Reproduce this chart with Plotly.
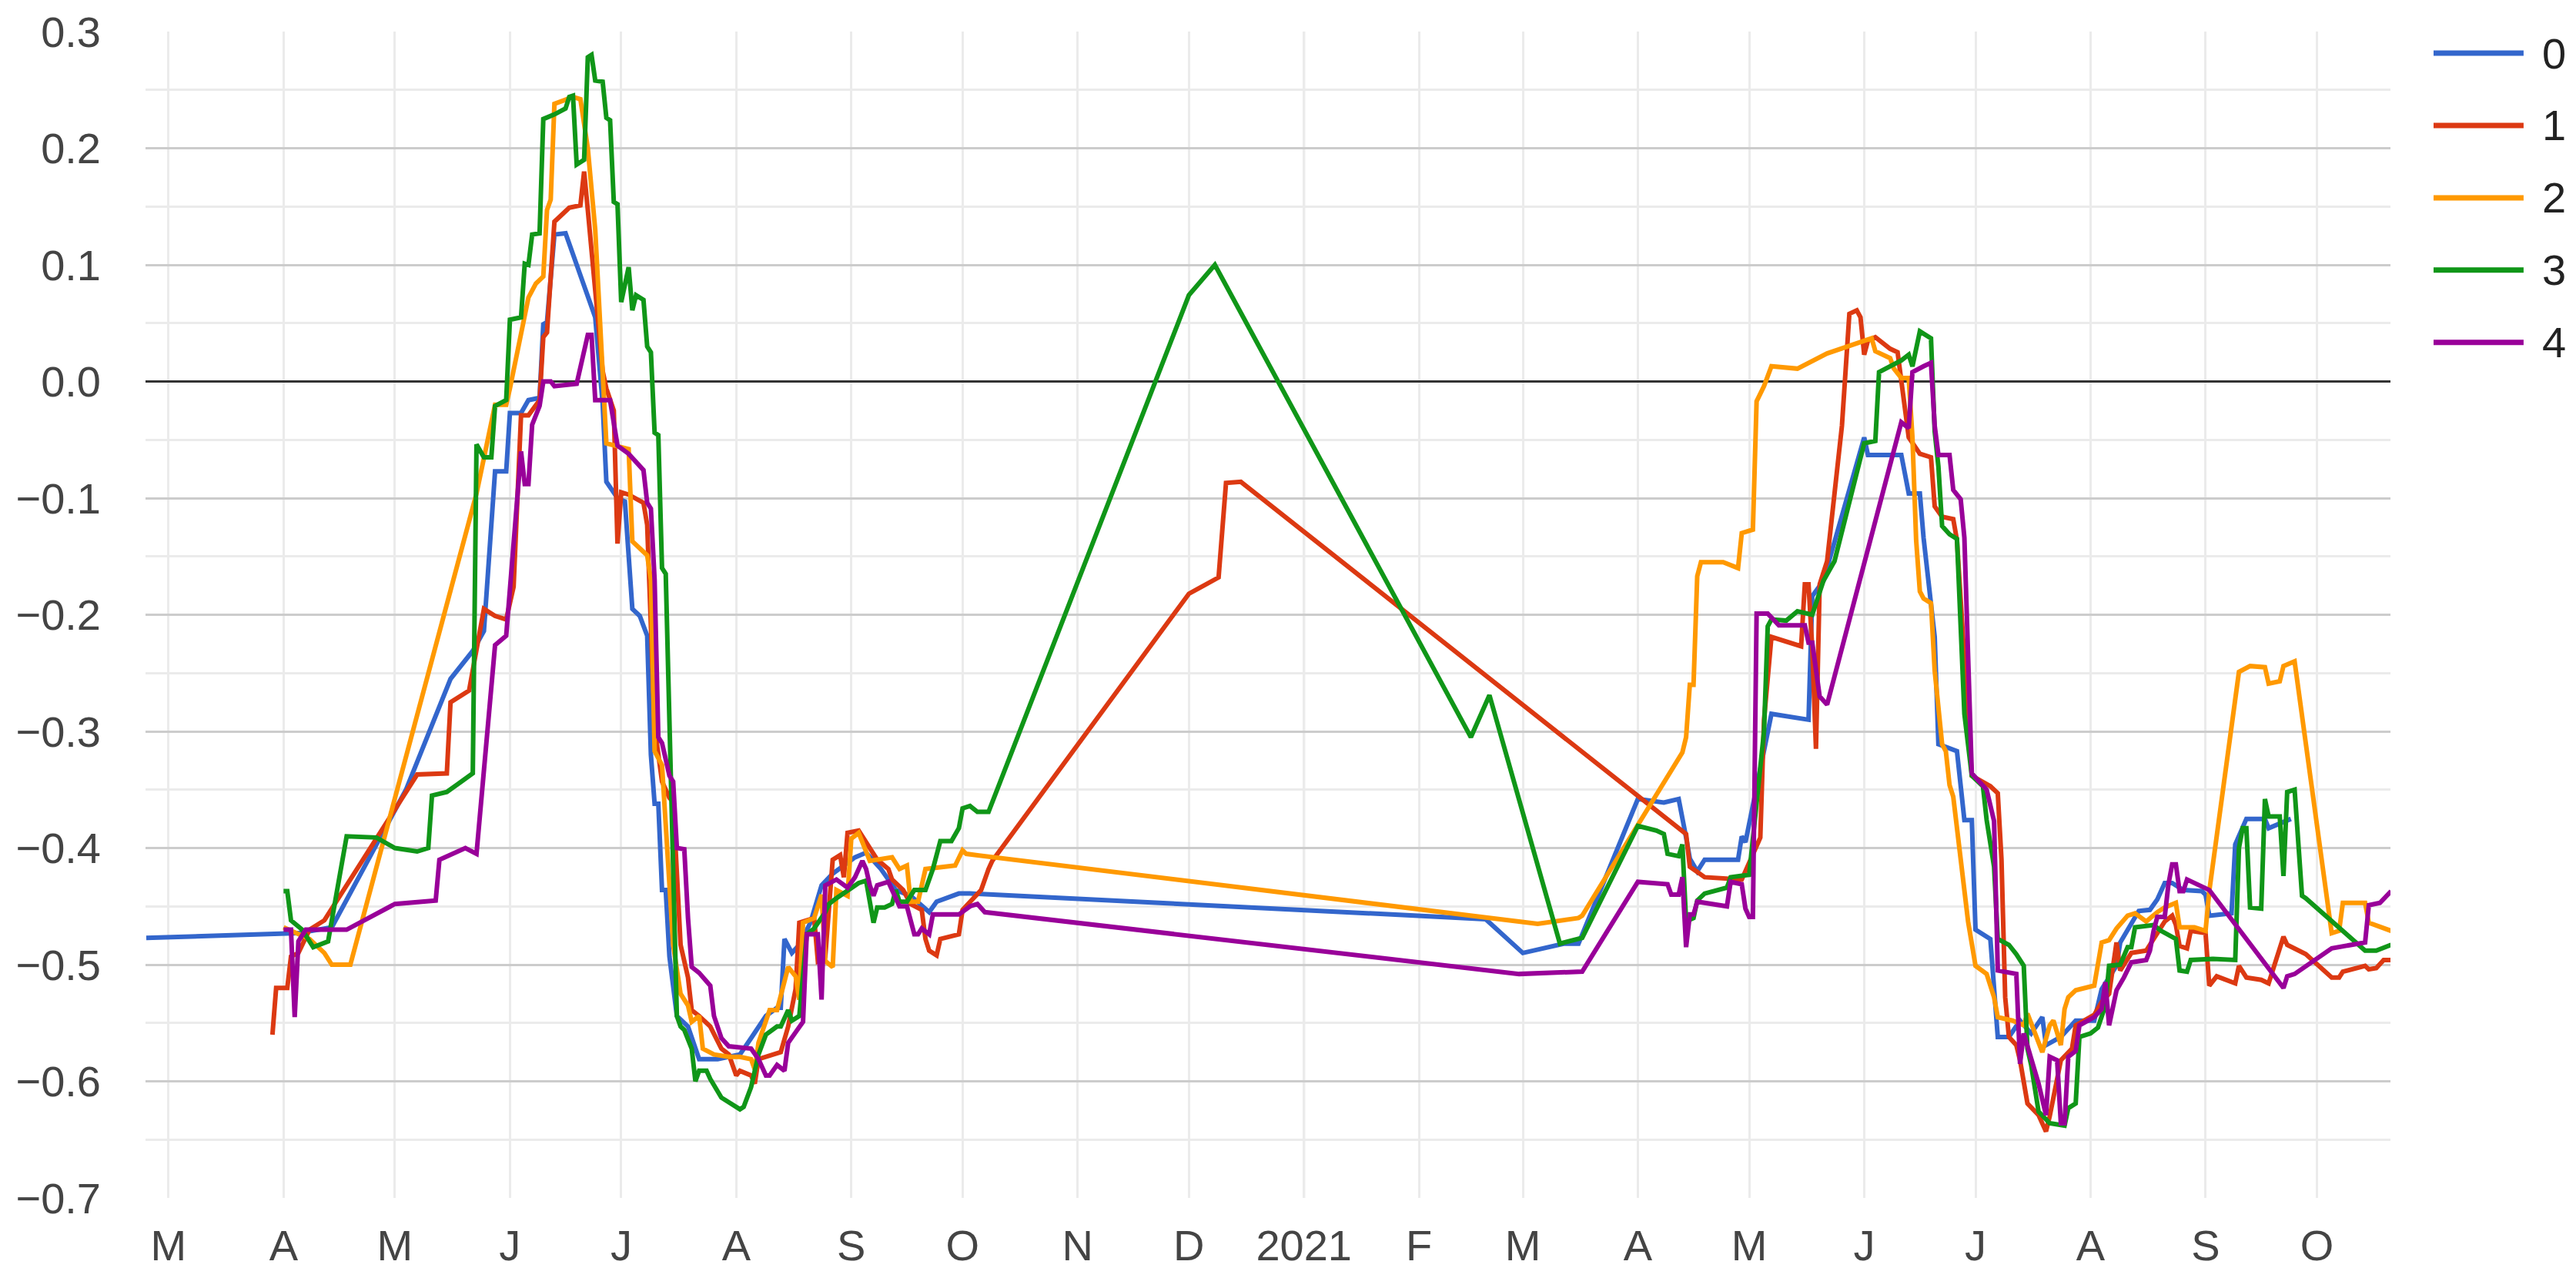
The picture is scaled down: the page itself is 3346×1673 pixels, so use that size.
import plotly.graph_objects as go

SERIES_NAMES = ["0", "1", "2", "3", "4"]
COLORS = ["#3366cc", "#dc3912", "#ff9900", "#109618", "#990099"]

s0_dates = ["2020-02-24","2020-04-01","2020-04-05","2020-04-14","2020-05-04","2020-05-16","2020-05-22","2020-05-25","2020-05-28","2020-05-31",
"2020-06-01","2020-06-04","2020-06-06","2020-06-09","2020-06-10","2020-06-11","2020-06-13","2020-06-16","2020-06-24","2020-06-26",
"2020-06-27","2020-06-30","2020-07-02","2020-07-04","2020-07-06","2020-07-08","2020-07-09","2020-07-10","2020-07-11","2020-07-12",
"2020-07-13","2020-07-14","2020-07-16","2020-07-19","2020-07-22","2020-07-27","2020-08-02","2020-08-05","2020-08-09","2020-08-12",
"2020-08-13","2020-08-14","2020-08-16","2020-08-18","2020-08-21","2020-08-24","2020-08-27","2020-09-02","2020-09-05","2020-09-09",
"2020-09-13","2020-09-17","2020-09-20","2020-09-22","2020-09-24","2020-09-30","2020-10-03","2021-02-19","2021-03-01","2021-03-12",
"2021-03-16","2021-04-01","2021-04-08","2021-04-12","2021-04-14","2021-04-15","2021-04-17","2021-04-19","2021-04-28","2021-04-29",
"2021-04-30","2021-05-06","2021-05-07","2021-05-17","2021-05-18","2021-05-21","2021-06-01","2021-06-02","2021-06-11","2021-06-13",
"2021-06-16","2021-06-17","2021-06-19","2021-06-20","2021-06-21","2021-06-26","2021-06-28","2021-06-30","2021-07-01","2021-07-05",
"2021-07-07","2021-07-10","2021-07-13","2021-07-16","2021-07-19","2021-07-20","2021-07-24","2021-07-28","2021-08-02","2021-08-04",
"2021-08-08","2021-08-09","2021-08-14","2021-08-17","2021-08-19","2021-08-21","2021-08-23","2021-08-26","2021-08-31","2021-09-01",
"2021-09-02","2021-09-08","2021-09-09","2021-09-12","2021-09-17","2021-09-18","2021-09-24"]
s0_values = [-0.477,-0.474,-0.473,-0.468,-0.350,-0.255,-0.231,-0.214,-0.077,-0.077,
-0.027,-0.027,-0.016,-0.014,0.049,0.051,0.126,0.127,0.055,-0.019,
-0.086,-0.100,-0.103,-0.195,-0.201,-0.218,-0.320,-0.362,-0.362,-0.436,
-0.436,-0.493,-0.544,-0.553,-0.581,-0.581,-0.577,-0.563,-0.544,-0.537,
-0.537,-0.478,-0.490,-0.483,-0.464,-0.432,-0.422,-0.408,-0.404,-0.418,
-0.436,-0.441,-0.450,-0.455,-0.446,-0.439,-0.439,-0.461,-0.490,-0.482,
-0.482,-0.358,-0.361,-0.358,-0.391,-0.409,-0.420,-0.410,-0.410,-0.390,
-0.395,-0.300,-0.285,-0.290,-0.184,-0.171,-0.048,-0.063,-0.063,-0.096,
-0.096,-0.134,-0.189,-0.219,-0.311,-0.317,-0.376,-0.376,-0.470,-0.478,
-0.562,-0.562,-0.548,-0.559,-0.545,-0.569,-0.562,-0.548,-0.548,-0.521,
-0.501,-0.481,-0.454,-0.453,-0.444,-0.430,-0.430,-0.436,-0.437,-0.440,
-0.458,-0.456,-0.397,-0.375,-0.375,-0.383,-0.375]

s1_dates = ["2020-03-29","2020-03-30","2020-04-02","2020-04-03","2020-04-05","2020-04-08","2020-04-12","2020-05-07","2020-05-15","2020-05-16",
"2020-05-21","2020-05-25","2020-05-28","2020-05-31","2020-06-02","2020-06-04","2020-06-06","2020-06-09","2020-06-10","2020-06-11",
"2020-06-13","2020-06-17","2020-06-20","2020-06-21","2020-06-22","2020-06-24","2020-06-26","2020-06-27","2020-06-29","2020-06-30",
"2020-07-01","2020-07-03","2020-07-07","2020-07-08","2020-07-10","2020-07-12","2020-07-14","2020-07-15","2020-07-17","2020-07-19",
"2020-07-20","2020-07-22","2020-07-25","2020-07-28","2020-07-30","2020-08-01","2020-08-02","2020-08-05","2020-08-06","2020-08-07",
"2020-08-10","2020-08-13","2020-08-15","2020-08-17","2020-08-18","2020-08-22","2020-08-23","2020-08-25","2020-08-27","2020-08-29",
"2020-08-30","2020-08-31","2020-09-03","2020-09-06","2020-09-08","2020-09-11","2020-09-12","2020-09-15","2020-09-17","2020-09-20",
"2020-09-21","2020-09-22","2020-09-24","2020-09-25","2020-09-30","2020-10-01","2020-10-03","2020-10-06","2020-10-08","2020-10-09",
"2020-12-01","2020-12-09","2020-12-11","2020-12-15","2021-04-14","2021-04-15","2021-04-19","2021-04-29","2021-05-04","2021-05-05",
"2021-05-07","2021-05-15","2021-05-16","2021-05-17","2021-05-18","2021-05-19","2021-05-20","2021-05-22","2021-05-26","2021-05-28",
"2021-05-30","2021-05-31","2021-06-01","2021-06-02","2021-06-04","2021-06-08","2021-06-10","2021-06-11","2021-06-13","2021-06-16",
"2021-06-19","2021-06-20","2021-06-22","2021-06-25","2021-06-26","2021-06-29","2021-06-30","2021-07-05","2021-07-07","2021-07-08",
"2021-07-09","2021-07-10","2021-07-12","2021-07-13","2021-07-15","2021-07-18","2021-07-20","2021-07-21","2021-07-24","2021-07-27",
"2021-07-28","2021-08-02","2021-08-04","2021-08-06","2021-08-08","2021-08-09","2021-08-12","2021-08-16","2021-08-18","2021-08-21",
"2021-08-23","2021-08-24","2021-08-25","2021-08-27","2021-08-28","2021-09-01","2021-09-02","2021-09-04","2021-09-09","2021-09-10",
"2021-09-12","2021-09-16","2021-09-18","2021-09-22","2021-09-23","2021-09-28","2021-10-05","2021-10-07","2021-10-08","2021-10-14",
"2021-10-15","2021-10-17","2021-10-19","2021-10-21"]
s1_values = [-0.560,-0.520,-0.520,-0.493,-0.490,-0.470,-0.462,-0.337,-0.336,-0.275,
-0.265,-0.195,-0.201,-0.204,-0.176,-0.029,-0.029,-0.016,0.038,0.042,
0.137,0.149,0.151,0.180,0.147,0.083,0.009,-0.006,-0.025,-0.139,
-0.095,-0.097,-0.104,-0.123,-0.296,-0.343,-0.357,-0.360,-0.483,-0.511,
-0.539,-0.544,-0.553,-0.572,-0.577,-0.595,-0.591,-0.595,-0.602,-0.581,
-0.578,-0.575,-0.553,-0.521,-0.464,-0.460,-0.497,-0.493,-0.410,-0.406,
-0.425,-0.387,-0.385,-0.399,-0.410,-0.418,-0.427,-0.436,-0.448,-0.453,
-0.478,-0.488,-0.492,-0.478,-0.474,-0.453,-0.446,-0.436,-0.418,-0.411,
-0.182,-0.168,-0.087,-0.086,-0.388,-0.416,-0.425,-0.427,-0.391,-0.290,
-0.219,-0.227,-0.174,-0.174,-0.229,-0.315,-0.174,-0.154,-0.038,0.058,
0.061,0.055,0.023,0.035,0.038,0.028,0.025,0.002,-0.048,-0.062,
-0.065,-0.107,-0.116,-0.118,-0.136,-0.289,-0.338,-0.347,-0.353,-0.410,
-0.528,-0.562,-0.569,-0.582,-0.619,-0.629,-0.643,-0.630,-0.582,-0.572,
-0.552,-0.543,-0.532,-0.525,-0.481,-0.505,-0.490,-0.488,-0.478,-0.463,
-0.458,-0.466,-0.484,-0.486,-0.471,-0.473,-0.518,-0.510,-0.516,-0.501,
-0.511,-0.513,-0.516,-0.476,-0.483,-0.491,-0.511,-0.511,-0.506,-0.501,
-0.504,-0.503,-0.496,-0.496]

s2_dates = ["2020-04-01","2020-04-08","2020-04-12","2020-04-14","2020-04-19","2020-05-23","2020-05-28","2020-05-31","2020-06-01","2020-06-02",
"2020-06-05","2020-06-06","2020-06-08","2020-06-10","2020-06-11","2020-06-12","2020-06-13","2020-06-16","2020-06-18","2020-06-20",
"2020-06-22","2020-06-24","2020-06-26","2020-06-27","2020-07-03","2020-07-04","2020-07-08","2020-07-09","2020-07-10","2020-07-12",
"2020-07-13","2020-07-15","2020-07-17","2020-07-19","2020-07-20","2020-07-22","2020-07-23","2020-07-26","2020-07-30","2020-08-02",
"2020-08-05","2020-08-06","2020-08-07","2020-08-10","2020-08-12","2020-08-15","2020-08-17","2020-08-18","2020-08-19","2020-08-22",
"2020-08-24","2020-08-25","2020-08-27","2020-08-28","2020-08-31","2020-09-01","2020-09-03","2020-09-05","2020-09-06","2020-09-12",
"2020-09-14","2020-09-16","2020-09-17","2020-09-19","2020-09-21","2020-09-29","2020-10-01","2020-10-02","2021-03-05","2021-03-16",
"2021-03-17","2021-04-13","2021-04-14","2021-04-15","2021-04-16","2021-04-17","2021-04-18","2021-04-24","2021-04-28","2021-04-29",
"2021-05-02","2021-05-03","2021-05-05","2021-05-07","2021-05-14","2021-05-22","2021-06-03","2021-06-04","2021-06-08","2021-06-09",
"2021-06-11","2021-06-13","2021-06-14","2021-06-15","2021-06-16","2021-06-17","2021-06-19","2021-06-20","2021-06-22","2021-06-23",
"2021-06-24","2021-06-25","2021-06-28","2021-06-29","2021-07-01","2021-07-04","2021-07-06","2021-07-07","2021-07-11","2021-07-14",
"2021-07-15","2021-07-17","2021-07-19","2021-07-21","2021-07-22","2021-07-24","2021-07-25","2021-07-26","2021-07-28","2021-08-02",
"2021-08-04","2021-08-06","2021-08-08","2021-08-11","2021-08-13","2021-08-16","2021-08-19","2021-08-21","2021-08-24","2021-08-25",
"2021-08-29","2021-09-01","2021-09-02","2021-09-10","2021-09-13","2021-09-17","2021-09-18","2021-09-21","2021-09-22","2021-09-25",
"2021-10-05","2021-10-07","2021-10-08","2021-10-14","2021-10-15","2021-10-21"]
s2_values = [-0.468,-0.478,-0.490,-0.500,-0.500,-0.096,-0.020,-0.020,-0.006,0.010,
0.055,0.072,0.084,0.090,0.147,0.156,0.238,0.242,0.244,0.242,
0.200,0.130,0.010,-0.053,-0.058,-0.137,-0.149,-0.170,-0.317,-0.329,
-0.380,-0.483,-0.525,-0.535,-0.549,-0.544,-0.572,-0.577,-0.579,-0.579,
-0.581,-0.590,-0.567,-0.539,-0.539,-0.502,-0.510,-0.530,-0.464,-0.460,
-0.440,-0.497,-0.502,-0.436,-0.441,-0.392,-0.387,-0.404,-0.411,-0.408,
-0.418,-0.415,-0.446,-0.446,-0.418,-0.415,-0.402,-0.405,-0.465,-0.460,
-0.458,-0.318,-0.305,-0.260,-0.260,-0.167,-0.155,-0.155,-0.160,-0.130,
-0.127,-0.017,-0.004,0.013,0.011,0.024,0.037,0.026,0.020,0.011,
0.003,0.003,-0.048,-0.136,-0.180,-0.186,-0.190,-0.248,-0.311,-0.317,
-0.346,-0.356,-0.442,-0.463,-0.501,-0.508,-0.528,-0.545,-0.548,-0.552,
-0.542,-0.559,-0.575,-0.552,-0.548,-0.569,-0.538,-0.528,-0.522,-0.518,
-0.481,-0.479,-0.469,-0.458,-0.456,-0.463,-0.455,-0.451,-0.447,-0.468,
-0.468,-0.471,-0.437,-0.249,-0.244,-0.245,-0.259,-0.257,-0.244,-0.240,
-0.473,-0.471,-0.447,-0.447,-0.464,-0.471]

s3_dates = ["2020-04-01","2020-04-02","2020-04-03","2020-04-06","2020-04-09","2020-04-13","2020-04-18","2020-04-26","2020-05-01",
"2020-05-07","2020-05-10","2020-05-11","2020-05-15","2020-05-22","2020-05-23","2020-05-25","2020-05-27","2020-05-28","2020-05-31",
"2020-06-01","2020-06-04","2020-06-05","2020-06-06","2020-06-07","2020-06-09","2020-06-10","2020-06-13","2020-06-16","2020-06-17",
"2020-06-18","2020-06-19","2020-06-21","2020-06-22","2020-06-23","2020-06-24","2020-06-26","2020-06-27","2020-06-28","2020-06-29",
"2020-06-30","2020-07-01","2020-07-03","2020-07-04","2020-07-05","2020-07-07","2020-07-08","2020-07-09","2020-07-10","2020-07-11",
"2020-07-12","2020-07-13","2020-07-14","2020-07-16","2020-07-17","2020-07-18","2020-07-20","2020-07-21","2020-07-22","2020-07-24",
"2020-07-25","2020-07-28","2020-08-02","2020-08-03","2020-08-05","2020-08-07","2020-08-09","2020-08-12","2020-08-13","2020-08-15",
"2020-08-16","2020-08-18","2020-08-20","2020-08-22","2020-08-25","2020-08-26","2020-08-28","2020-08-31","2020-09-03","2020-09-05",
"2020-09-06","2020-09-07","2020-09-08","2020-09-10","2020-09-12","2020-09-13","2020-09-14","2020-09-16","2020-09-18","2020-09-21",
"2020-09-23","2020-09-25","2020-09-28","2020-09-30","2020-10-01","2020-10-03","2020-10-05","2020-10-08","2020-12-01","2020-12-08",
"2021-02-15","2021-02-20","2021-03-11","2021-03-16","2021-03-17","2021-04-01","2021-04-06","2021-04-08","2021-04-09","2021-04-12",
"2021-04-13","2021-04-14","2021-04-16","2021-04-17","2021-04-19","2021-04-25","2021-04-26","2021-05-01","2021-05-05","2021-05-06",
"2021-05-07","2021-05-11","2021-05-14","2021-05-18","2021-05-21","2021-05-24","2021-06-01","2021-06-04","2021-06-05","2021-06-11",
"2021-06-13","2021-06-14","2021-06-16","2021-06-19","2021-06-20","2021-06-21","2021-06-22","2021-06-24","2021-06-26","2021-06-28",
"2021-06-30","2021-07-03","2021-07-04","2021-07-06","2021-07-07","2021-07-10","2021-07-12","2021-07-14","2021-07-15","2021-07-16",
"2021-07-18","2021-07-21","2021-07-24","2021-07-25","2021-07-26","2021-07-28","2021-07-29","2021-08-01","2021-08-03","2021-08-05",
"2021-08-06","2021-08-09","2021-08-11","2021-08-12","2021-08-13","2021-08-18","2021-08-20","2021-08-24","2021-08-25","2021-08-27",
"2021-08-28","2021-09-03","2021-09-09","2021-09-10","2021-09-11","2021-09-12","2021-09-13","2021-09-16","2021-09-17","2021-09-18",
"2021-09-21","2021-09-22","2021-09-23","2021-09-25","2021-09-27","2021-09-28","2021-10-14","2021-10-17","2021-10-21"]
s3_values = [-0.437,-0.437,-0.462,-0.470,-0.485,-0.480,-0.390,-0.391,-0.400,
-0.403,-0.400,-0.355,-0.352,-0.336,-0.054,-0.065,-0.065,-0.021,-0.016,
0.053,0.055,0.101,0.100,0.126,0.127,0.225,0.229,0.234,0.244,
0.245,0.186,0.190,0.278,0.280,0.258,0.257,0.226,0.224,0.154,
0.152,0.068,0.098,0.061,0.074,0.070,0.030,0.025,-0.044,-0.046,
-0.160,-0.165,-0.295,-0.544,-0.553,-0.556,-0.572,-0.600,-0.591,-0.591,
-0.598,-0.614,-0.624,-0.622,-0.605,-0.577,-0.560,-0.553,-0.553,-0.539,
-0.548,-0.544,-0.474,-0.469,-0.455,-0.448,-0.443,-0.436,-0.430,-0.428,
-0.446,-0.464,-0.451,-0.451,-0.448,-0.436,-0.446,-0.446,-0.436,-0.436,
-0.418,-0.394,-0.394,-0.383,-0.366,-0.364,-0.369,-0.369,0.074,0.100,
-0.305,-0.269,-0.482,-0.477,-0.477,-0.381,-0.385,-0.388,-0.405,-0.407,
-0.397,-0.463,-0.460,-0.445,-0.439,-0.434,-0.425,-0.423,-0.300,-0.210,
-0.204,-0.205,-0.197,-0.200,-0.171,-0.154,-0.053,-0.051,0.008,0.018,
0.023,0.013,0.043,0.037,-0.043,-0.073,-0.124,-0.131,-0.135,-0.285,
-0.338,-0.347,-0.376,-0.416,-0.478,-0.483,-0.491,-0.501,-0.572,-0.586,
-0.626,-0.636,-0.638,-0.638,-0.623,-0.619,-0.562,-0.559,-0.554,-0.535,
-0.501,-0.500,-0.485,-0.485,-0.468,-0.466,-0.471,-0.478,-0.505,-0.506,
-0.496,-0.495,-0.496,-0.400,-0.383,-0.383,-0.451,-0.452,-0.358,-0.373,
-0.373,-0.424,-0.352,-0.350,-0.441,-0.443,-0.488,-0.488,-0.483]

s4_dates = ["2020-04-01","2020-04-03","2020-04-04","2020-04-05","2020-04-07","2020-04-18","2020-05-01","2020-05-12","2020-05-13","2020-05-20",
"2020-05-23","2020-05-28","2020-05-31","2020-06-04","2020-06-05","2020-06-06","2020-06-07","2020-06-09","2020-06-10","2020-06-12",
"2020-06-13","2020-06-19","2020-06-22","2020-06-23","2020-06-24","2020-06-28","2020-06-30","2020-07-03","2020-07-07","2020-07-08",
"2020-07-09","2020-07-10","2020-07-11","2020-07-12","2020-07-14","2020-07-15","2020-07-16","2020-07-18","2020-07-19","2020-07-20",
"2020-07-22","2020-07-25","2020-07-26","2020-07-28","2020-07-30","2020-08-03","2020-08-05","2020-08-07","2020-08-09","2020-08-10",
"2020-08-12","2020-08-14","2020-08-15","2020-08-17","2020-08-19","2020-08-20","2020-08-23","2020-08-24","2020-08-25","2020-08-28",
"2020-08-31","2020-09-02","2020-09-04","2020-09-05","2020-09-06","2020-09-07","2020-09-08","2020-09-11","2020-09-14","2020-09-16",
"2020-09-18","2020-09-19","2020-09-20","2020-09-22","2020-09-23","2020-09-30","2020-10-03","2020-10-05","2020-10-07","2021-02-28",
"2021-03-16","2021-03-17","2021-04-01","2021-04-09","2021-04-10","2021-04-12","2021-04-13","2021-04-14","2021-04-15","2021-04-16",
"2021-04-17","2021-04-25","2021-04-26","2021-04-29","2021-04-30","2021-05-01","2021-05-02","2021-05-03","2021-05-06","2021-05-09",
"2021-05-16","2021-05-17","2021-05-18","2021-05-20","2021-05-22","2021-06-11","2021-06-13","2021-06-14","2021-06-17","2021-06-19",
"2021-06-20","2021-06-21","2021-06-24","2021-06-25","2021-06-27","2021-06-28","2021-06-30","2021-07-04","2021-07-06","2021-07-07",
"2021-07-12","2021-07-13","2021-07-14","2021-07-18","2021-07-20","2021-07-21","2021-07-23","2021-07-24","2021-07-25","2021-07-26",
"2021-07-28","2021-07-29","2021-08-02","2021-08-04","2021-08-05","2021-08-06","2021-08-07","2021-08-08","2021-08-10","2021-08-11",
"2021-08-12","2021-08-16","2021-08-17","2021-08-18","2021-08-19","2021-08-21","2021-08-22","2021-08-23","2021-08-24","2021-08-25",
"2021-08-26","2021-08-27","2021-09-02","2021-09-22","2021-09-23","2021-09-25","2021-10-05","2021-10-14","2021-10-15","2021-10-18",
"2021-10-21"]
s4_values = [-0.470,-0.470,-0.545,-0.480,-0.470,-0.470,-0.448,-0.445,-0.410,-0.400,
-0.405,-0.226,-0.218,-0.060,-0.088,-0.088,-0.037,-0.021,0.000,0.000,
-0.004,-0.002,0.040,0.040,-0.016,-0.016,-0.055,-0.062,-0.076,-0.104,
-0.109,-0.170,-0.305,-0.310,-0.338,-0.343,-0.400,-0.401,-0.460,-0.502,
-0.507,-0.518,-0.544,-0.563,-0.570,-0.572,-0.572,-0.581,-0.595,-0.595,
-0.586,-0.591,-0.567,-0.558,-0.549,-0.474,-0.474,-0.530,-0.432,-0.427,
-0.434,-0.425,-0.411,-0.418,-0.432,-0.441,-0.432,-0.429,-0.450,-0.450,
-0.474,-0.474,-0.469,-0.474,-0.457,-0.457,-0.450,-0.448,-0.455,-0.508,
-0.507,-0.506,-0.429,-0.431,-0.440,-0.440,-0.425,-0.485,-0.457,-0.457,
-0.446,-0.450,-0.429,-0.431,-0.452,-0.459,-0.459,-0.199,-0.199,-0.209,
-0.209,-0.224,-0.224,-0.270,-0.277,-0.035,-0.040,0.008,0.013,0.016,
-0.038,-0.063,-0.063,-0.093,-0.101,-0.134,-0.336,-0.350,-0.377,-0.505,
-0.508,-0.585,-0.559,-0.602,-0.629,-0.579,-0.582,-0.636,-0.636,-0.579,
-0.574,-0.552,-0.545,-0.538,-0.515,-0.552,-0.537,-0.522,-0.511,-0.505,
-0.498,-0.496,-0.488,-0.471,-0.459,-0.459,-0.431,-0.414,-0.414,-0.437,
-0.437,-0.427,-0.436,-0.520,-0.510,-0.508,-0.486,-0.481,-0.449,-0.447,
-0.437]

MONTH_TICKS = ["2020-03-01","2020-04-01","2020-05-01","2020-06-01","2020-07-01","2020-08-01","2020-09-01",
"2020-10-01","2020-11-01","2020-12-01","2021-01-01","2021-02-01","2021-03-01","2021-04-01","2021-05-01",
"2021-06-01","2021-07-01","2021-08-01","2021-09-01","2021-10-01"]
MONTH_LABELS = ["M","A","M","J","J","A","S","O","N","D","2021","F","M","A","M","J","J","A","S","O"]
Y_TICKS = [-0.7,-0.6,-0.5,-0.4,-0.3,-0.2,-0.1,0.0,0.1,0.2,0.3]

all_dates = [s0_dates, s1_dates, s2_dates, s3_dates, s4_dates]
all_values = [s0_values, s1_values, s2_values, s3_values, s4_values]

FONT = "Arial, 'Liberation Sans', sans-serif"

fig = go.Figure()
for name, color, xs, ys in zip(SERIES_NAMES, COLORS, all_dates, all_values):
    fig.add_trace(go.Scatter(x=xs, y=ys, mode="lines", name=name,
                             line=dict(color=color, width=6), showlegend=False))

fig.update_layout(
    width=3346, height=1673,
    margin=dict(l=189, r=241, t=41, b=117),
    plot_bgcolor="white", paper_bgcolor="white",
    font=dict(family=FONT, size=56, color="#444444"),
    showlegend=False,
)
fig.update_xaxes(
    type="date", range=["2020-02-23 19:00", "2021-10-20 20:00"],
    tickmode="array", tickvals=MONTH_TICKS, ticktext=MONTH_LABELS,
    showgrid=True, gridcolor="#ebebeb", gridwidth=3, automargin=False,
    showline=False, zeroline=False, ticks="", ticklabelstandoff=24,
    tickfont=dict(family=FONT, size=56, color="#444444"),
)
fig.update_yaxes(
    range=[-0.7, 0.3], tickmode="array", tickvals=Y_TICKS, tickformat=".1f",
    showgrid=True, gridcolor="#cccccc", gridwidth=3, automargin=False,
    minor=dict(tickmode="linear", tick0=0, dtick=0.05, showgrid=True, gridcolor="#ebebeb", gridwidth=3),
    zeroline=True, zerolinecolor="#333333", zerolinewidth=3,
    showline=False, ticks="", ticklabelstandoff=57,
    tickfont=dict(family=FONT, size=56, color="#444444"),
)

# darker gridline at the year boundary
fig.add_shape(type="line", xref="x", yref="paper", x0="2021-01-01", x1="2021-01-01", y0=0, y1=1,
              line=dict(color="#cccccc", width=3), layer="below")

# legend drawn on the right
LEG_TOP = 0.9815
LEG_STEP = 0.0620
for i, (name, color) in enumerate(zip(SERIES_NAMES, COLORS)):
    yy = LEG_TOP - i * LEG_STEP
    fig.add_shape(type="line", xref="paper", yref="paper", x0=1.0192, x1=1.0593, y0=yy, y1=yy,
                  line=dict(color=color, width=7))
    fig.add_annotation(xref="paper", yref="paper", x=1.0669, y=yy, text=name, showarrow=False,
                       xanchor="left", yanchor="middle",
                       font=dict(family=FONT, size=56, color="#222222"))

fig.write_html("out.html", config={"displayModeBar": False},
               post_script="document.body.style.margin='0px';document.body.style.overflow='hidden';")
